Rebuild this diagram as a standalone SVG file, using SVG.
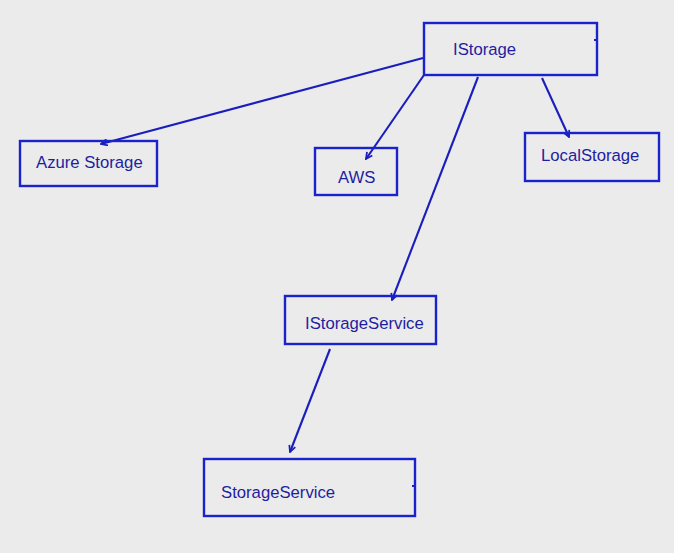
<svg xmlns="http://www.w3.org/2000/svg" width="674" height="553" viewBox="0 0 674 553">
<style>
.box{fill:none;stroke:#1a22cc;stroke-width:2.4}
.lbl{font-family:"Liberation Sans",Arial,sans-serif;font-size:16.7px;fill:#1e1ea0}
.edge{stroke:#1a1ebd;stroke-width:2.1;fill:none;marker-end:url(#ah)}
</style>
<defs>
<marker id="ah" viewBox="0 0 10 10" refX="9" refY="5" markerWidth="8" markerHeight="8" orient="auto" markerUnits="userSpaceOnUse">
<path d="M1,1 L9,5 L1,9" fill="none" stroke="#1a1ebd" stroke-width="2.2"/>
</marker>
</defs>
<rect width="674" height="553" fill="#ebebeb"/>
<g id="connectors">
<line class="edge" x1="423" y1="58" x2="101" y2="144"/>
<line class="edge" x1="424" y1="75" x2="366" y2="159"/>
<line class="edge" x1="478" y1="77" x2="392" y2="300"/>
<line class="edge" x1="542" y1="78" x2="569" y2="137"/>
<line class="edge" x1="330" y1="349" x2="290" y2="452"/>
</g>
<g id="IStorage">
<rect class="box" x="424" y="23" width="173" height="52"/>
<line x1="594" y1="40" x2="597" y2="40" stroke="#1a22cc" stroke-width="2"/>
<text class="lbl" x="453" y="55">IStorage</text>
</g>
<g id="AzureStorage">
<rect class="box" x="20" y="141" width="137" height="45"/>
<text class="lbl" x="36" y="168">Azure Storage</text>
</g>
<g id="AWS">
<rect class="box" x="315" y="148" width="82" height="47"/>
<text class="lbl" x="338" y="183">AWS</text>
</g>
<g id="LocalStorage">
<rect class="box" x="525" y="133" width="134" height="48"/>
<text class="lbl" x="541" y="161">LocalStorage</text>
</g>
<g id="IStorageService">
<rect class="box" x="285" y="296" width="151" height="48"/>
<text class="lbl" x="305" y="329">IStorageService</text>
</g>
<g id="StorageService">
<rect class="box" x="204" y="459" width="211" height="57"/>
<line x1="412" y1="486" x2="415" y2="486" stroke="#1a22cc" stroke-width="2"/>
<text class="lbl" x="221" y="498">StorageService</text>
</g>
</svg>
